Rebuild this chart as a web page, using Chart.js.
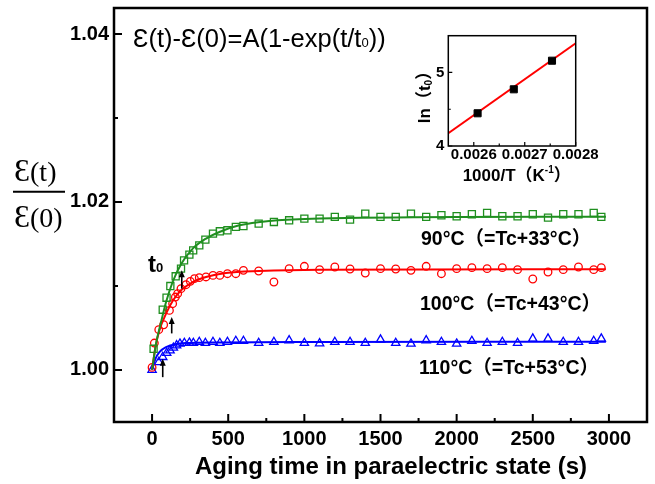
<!DOCTYPE html>
<html>
<head>
<meta charset="utf-8">
<script src="https://cdn.jsdelivr.net/npm/chart.js@4.4.1/dist/chart.umd.min.js"></script>
<style>
  body { margin: 0; background: #fff; }
  #wrap { position: relative; width: 655px; height: 484px; }
  #main { position: absolute; left: 0; top: 0; }
  #inset { position: absolute; left: 400px; top: 25px; }
</style>
</head>
<body>
<div id="wrap">
  <canvas id="main" width="655" height="484"></canvas>
  <canvas id="inset" width="200" height="165"></canvas>
</div>
<script>
// ---- main plot data (time in s, normalised permittivity) ----
const greenT = [10, 70, 95, 120, 155, 190, 210, 245, 270, 310, 350, 400, 445, 495, 550, 600, 700, 800, 900, 1000,
  1100, 1200, 1300, 1400, 1500, 1600, 1700, 1800, 1900, 2000, 2100, 2200, 2300, 2400, 2500, 2600, 2700, 2800, 2900, 2950];
const greenV = [1.00252, 1.00717, 1.0086, 1.00999, 1.01115, 1.01206, 1.01305, 1.01373, 1.01424, 1.01484, 1.01552, 1.01623,
  1.01651, 1.01663, 1.01703, 1.01714, 1.01742, 1.01762, 1.01782, 1.01802, 1.01802, 1.01822, 1.0179, 1.01862, 1.01822,
  1.01822, 1.01862, 1.01822, 1.01842, 1.0183, 1.01854, 1.01869, 1.0183, 1.0183, 1.01854, 1.01814, 1.01854, 1.01854, 1.01869, 1.01822];

const redT = [0, 15, 44, 76, 114, 135, 153, 168, 190, 223, 251, 278, 310, 354, 400, 445, 495, 550, 600, 700, 800, 900, 1000,
  1100, 1200, 1300, 1400, 1500, 1600, 1700, 1800, 1900, 2000, 2100, 2200, 2300, 2400, 2500, 2600, 2700, 2800, 2900, 2950];
const redV = [1.0003, 1.0032, 1.00479, 1.00538, 1.00709, 1.00789, 1.00868, 1.00908, 1.00968, 1.01015, 1.01055, 1.01087,
  1.01099, 1.01107, 1.01126, 1.01126, 1.01146, 1.01146, 1.01186, 1.01178, 1.01047, 1.01206, 1.01234, 1.01194, 1.01226,
  1.01202, 1.01154, 1.01206, 1.01202, 1.01186, 1.01234, 1.01146, 1.01206, 1.01218, 1.01206, 1.01218, 1.01194, 1.01083,
  1.01166, 1.01194, 1.01226, 1.01194, 1.01218];

const blueT = [0, 44, 70, 96, 118, 140, 161, 183, 212, 245, 271, 310, 350, 400, 445, 495, 550, 600, 700, 800, 900, 1000,
  1100, 1200, 1300, 1400, 1500, 1600, 1700, 1800, 1900, 2000, 2100, 2200, 2300, 2400, 2500, 2600, 2700, 2800, 2900, 2950];
const blueV = [1.0, 1.00093, 1.00153, 1.00201, 1.00232, 1.00264, 1.00292, 1.00312, 1.0032, 1.00324, 1.0032, 1.00332,
  1.0032, 1.00332, 1.0032, 1.00332, 1.00344, 1.00344, 1.0032, 1.00332, 1.00352, 1.0032, 1.00316, 1.00332, 1.00332,
  1.0032, 1.0036, 1.0032, 1.00312, 1.00352, 1.00332, 1.00312, 1.00344, 1.0032, 1.00332, 1.0032, 1.00372, 1.00372,
  1.00332, 1.00332, 1.00344, 1.00372];

// fitted curves
const greenFitT = [0, 26, 59, 92, 135, 190, 267, 354, 442, 573, 770, 1100, 2000, 2980];
const greenFitV = [1.0, 1.00312, 1.0057, 1.00809, 1.01047, 1.01258, 1.01444, 1.01564, 1.01643, 1.01722, 1.01774, 1.01802, 1.01822, 1.01824];
const redFitT = [0, 22, 48, 92, 135, 190, 267, 354, 485, 704, 1100, 2980];
const redFitV = [1.0, 1.00272, 1.00471, 1.0067, 1.0082, 1.00948, 1.01047, 1.01107, 1.01154, 1.01178, 1.01194, 1.012];
const blueFitT = [0, 22, 48, 92, 146, 223, 442, 1100, 2980];
const blueFitV = [1.0, 1.00133, 1.00213, 1.00272, 1.00304, 1.0032, 1.00328, 1.00332, 1.00336];

// t0 arrows
const arrowT = [195, 129, 70];
const arrowFrom = [1.00968, 1.00435, 0.99914];
const arrowTo = [1.01186, 1.00629, 1.00134];

const xTicks = [0, 500, 1000, 1500, 2000, 2500, 3000];
const xMinor = [250, 750, 1250, 1750, 2250, 2750];
const yTicks = [1.00, 1.02, 1.04];
const yMinor = [1.01, 1.03];

const tempLabels = ['90°C（=Tc+33°C）', '100°C（=Tc+43°C）', '110°C（=Tc+53°C）'];

// ---- inset data ----
const invT = [0.0026075, 0.0026785, 0.0027535];
const lnT0 = [4.445, 4.771, 5.160];
const lineX = [0.00255, 0.0028];
const lineY = [4.173, 5.397];
const insetXTicks = [0.0026, 0.0027, 0.0028];
const insetXMinor = [0.00265, 0.00275];
const insetYTicks = [4, 5];
const insetYMinor = [4.5];

const SANS = '"Liberation Sans", Arial, "Noto Sans CJK SC", sans-serif';
const SERIF = '"Liberation Serif", "DejaVu Serif", serif';

function pts(xs, ys) { return xs.map((x, i) => ({ x: x, y: ys[i] })); }

function markers(xs, ys, color, style, r) {
  return { data: pts(xs, ys), showLine: false, pointStyle: style, pointRadius: r,
    pointBorderColor: color, pointBackgroundColor: 'rgba(0,0,0,0)', pointBorderWidth: 1.3 };
}
function fitLine(xs, ys, color) {
  return { data: pts(xs, ys), showLine: true, pointRadius: 0, borderColor: color, borderWidth: 2,
    cubicInterpolationMode: 'monotone', fill: false };
}

// text made of several runs (for sub/superscripts)
function runs(ctx, x, y, parts, align) {
  let w = 0;
  parts.forEach(p => { ctx.font = p.f; w += ctx.measureText(p.t).width; });
  if (align === 'center') x -= w / 2;
  ctx.textAlign = 'left';
  parts.forEach(p => {
    ctx.font = p.f;
    ctx.fillText(p.t, x, y + (p.dy || 0));
    x += ctx.measureText(p.t).width;
  });
}

// frame with inward ticks
function frameTicks(o) {
  return {
    id: 'frameTicks',
    afterDatasetsDraw(chart) {
      const { ctx, chartArea: a, scales: { x, y } } = chart;
      ctx.save();
      ctx.strokeStyle = '#000';
      ctx.lineWidth = o.tickW;
      ctx.beginPath();
      o.xMajor.forEach(v => { const p = x.getPixelForValue(v); ctx.moveTo(p, a.bottom); ctx.lineTo(p, a.bottom - o.major); });
      o.xMinor.forEach(v => { const p = x.getPixelForValue(v); ctx.moveTo(p, a.bottom); ctx.lineTo(p, a.bottom - o.minor); });
      o.yMajor.forEach(v => { const p = y.getPixelForValue(v); ctx.moveTo(a.left, p); ctx.lineTo(a.left + o.major, p); });
      o.yMinor.forEach(v => { const p = y.getPixelForValue(v); ctx.moveTo(a.left, p); ctx.lineTo(a.left + o.minor, p); });
      ctx.stroke();
      ctx.lineWidth = o.frameW;
      ctx.strokeRect(a.left, a.top, a.right - a.left, a.bottom - a.top);
      ctx.restore();
    }
  };
}

const mainText = {
  id: 'mainText',
  afterDraw(chart) {
    const { ctx, scales: { x, y } } = chart;
    ctx.save();
    ctx.fillStyle = '#000';
    ctx.textBaseline = 'alphabetic';

    // formula
    runs(ctx, 133, 47, [
      { t: 'Ɛ(t)-Ɛ(0)=A(1-exp(t/t', f: '25.5px ' + SANS },
      { t: '0', f: '13px ' + SANS },
      { t: '))', f: '25.5px ' + SANS }
    ]);

    // y axis title as a fraction
    runs(ctx, 14, 181, [{ t: 'Ɛ', f: '32px ' + SERIF }, { t: '(t)', f: '28px ' + SERIF }]);
    runs(ctx, 14, 227, [{ t: 'Ɛ', f: '32px ' + SERIF }, { t: '(0)', f: '28px ' + SERIF }]);
    ctx.strokeStyle = '#000';
    ctx.lineWidth = 2;
    ctx.beginPath(); ctx.moveTo(13, 191.7); ctx.lineTo(65, 191.7); ctx.stroke();

    // x axis title
    ctx.font = 'bold 24px ' + SANS;
    ctx.textAlign = 'center';
    ctx.fillText('Aging time in paraelectric state (s)', 391, 474);

    // temperature labels
    ctx.textAlign = 'left';
    ctx.font = 'bold 19.5px ' + SANS;
    ctx.fillText(tempLabels[0], 421, 245);
    ctx.fillText(tempLabels[1], 420, 310);
    ctx.fillText(tempLabels[2], 419, 374);

    // t0 label
    runs(ctx, 148, 272, [{ t: 't', f: 'bold 24px ' + SANS }, { t: '0', f: 'bold 13px ' + SANS }]);

    // arrows
    ctx.lineWidth = 1.6;
    arrowT.forEach((t, i) => {
      const px = x.getPixelForValue(t);
      const y0 = y.getPixelForValue(arrowFrom[i]);
      const y1 = y.getPixelForValue(arrowTo[i]);
      ctx.beginPath(); ctx.moveTo(px, y0); ctx.lineTo(px, y1 + 5); ctx.stroke();
      ctx.beginPath(); ctx.moveTo(px, y1); ctx.lineTo(px - 3, y1 + 7); ctx.lineTo(px + 3, y1 + 7); ctx.closePath(); ctx.fill();
    });
    ctx.restore();
  }
};

const tickFont = { family: SANS, size: 20, weight: 'bold' };

new Chart(document.getElementById('main'), {
  type: 'scatter',
  data: {
    datasets: [
      fitLine(greenFitT, greenFitV, '#1f8f1f'),
      fitLine(redFitT, redFitV, '#ff0000'),
      fitLine(blueFitT, blueFitV, '#0000ff'),
      markers(greenT, greenV, '#1f8f1f', 'rect', 5),
      markers(redT, redV, '#ff0000', 'circle', 3.8),
      markers(blueT, blueV, '#0000ff', 'triangle', 4.8)
    ]
  },
  options: {
    responsive: false,
    animation: false,
    devicePixelRatio: 1,
    layout: { padding: { top: 8, right: 8, left: 0, bottom: 0 } },
    plugins: { legend: { display: false }, tooltip: { enabled: false } },
    scales: {
      x: {
        type: 'linear', min: -250, max: 3250,
        grid: { display: false, drawTicks: false }, border: { display: false },
        afterBuildTicks: s => { s.ticks = xTicks.map(v => ({ value: v })); },
        afterFit: s => { s.height = 62; s.paddingLeft = 0; s.paddingRight = 0; },
        ticks: { font: tickFont, color: '#000', padding: 5, maxRotation: 0, autoSkip: false, callback: v => String(v) }
      },
      y: {
        type: 'linear', min: 0.9938, max: 1.0431,
        grid: { display: false, drawTicks: false }, border: { display: false },
        afterBuildTicks: s => { s.ticks = yTicks.map(v => ({ value: v })); },
        afterFit: s => { s.width = 114; s.paddingTop = 0; s.paddingBottom = 0; },
        ticks: { font: tickFont, color: '#000', padding: 5, autoSkip: false, callback: v => v.toFixed(2) }
      }
    }
  },
  plugins: [frameTicks({ xMajor: xTicks, xMinor: xMinor, yMajor: yTicks, yMinor: yMinor, major: 8, minor: 4, tickW: 2, frameW: 2.5 }), mainText]
});

const insetText = {
  id: 'insetText',
  afterDraw(chart) {
    const ctx = chart.ctx;
    ctx.save();
    ctx.fillStyle = '#000';
    runs(ctx, 116.7, 156, [
      { t: '1000/T（K', f: 'bold 17px ' + SANS },
      { t: '-1', f: 'bold 10px ' + SANS, dy: -8 },
      { t: '）', f: 'bold 17px ' + SANS }
    ], 'center');
    ctx.translate(30, 68);
    ctx.rotate(-Math.PI / 2);
    runs(ctx, 0, 0, [
      { t: 'ln（t', f: 'bold 17px ' + SANS },
      { t: '0', f: 'bold 10px ' + SANS, dy: 2 },
      { t: '）', f: 'bold 17px ' + SANS }
    ], 'center');
    ctx.restore();
  }
};

const insetFont = { family: SANS, size: 15, weight: 'bold' };

new Chart(document.getElementById('inset'), {
  type: 'scatter',
  data: {
    datasets: [
      { data: pts(invT, lnT0), showLine: false, pointStyle: 'rect', pointRadius: 5,
        pointBackgroundColor: '#000', pointBorderColor: '#000', pointBorderWidth: 1 },
      { data: pts(lineX, lineY), showLine: true, pointRadius: 0, borderColor: '#ff0000', borderWidth: 2 }
    ]
  },
  options: {
    responsive: false,
    animation: false,
    devicePixelRatio: 1,
    layout: { padding: { top: 10.7, right: 24.3, left: 0, bottom: 0 } },
    plugins: { legend: { display: false }, tooltip: { enabled: false } },
    scales: {
      x: {
        type: 'linear', min: 0.00255, max: 0.0028,
        grid: { display: false, drawTicks: false }, border: { display: false },
        afterBuildTicks: s => { s.ticks = insetXTicks.map(v => ({ value: v })); },
        afterFit: s => { s.height = 44; s.paddingLeft = 0; s.paddingRight = 0; },
        ticks: { font: insetFont, color: '#000', padding: 0, maxRotation: 0, autoSkip: false, callback: v => v.toFixed(4) }
      },
      y: {
        type: 'linear', min: 4, max: 5.5,
        grid: { display: false, drawTicks: false }, border: { display: false },
        afterBuildTicks: s => { s.ticks = insetYTicks.map(v => ({ value: v })); },
        afterFit: s => { s.width = 48.3; s.paddingTop = 0; s.paddingBottom = 0; },
        ticks: { font: insetFont, color: '#000', padding: 4, autoSkip: false, callback: v => String(v) }
      }
    }
  },
  plugins: [frameTicks({ xMajor: insetXTicks, xMinor: insetXMinor, yMajor: insetYTicks, yMinor: insetYMinor, major: 4, minor: 2.5, tickW: 1.2, frameW: 1.5 }), insetText]
});
</script>
</body>
</html>
